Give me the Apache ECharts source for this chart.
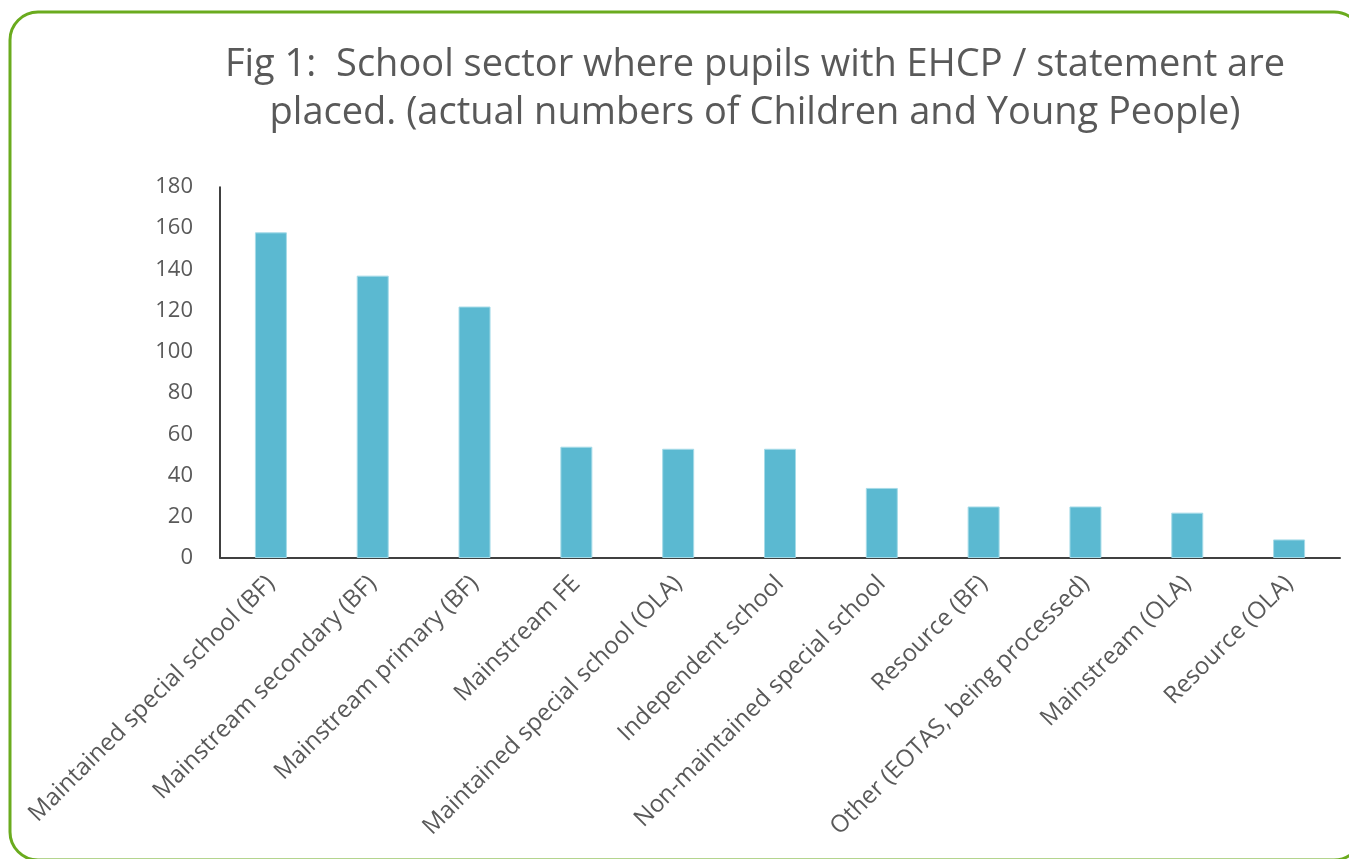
<!DOCTYPE html>
<html><head><meta charset="utf-8">
<script src="https://cdn.jsdelivr.net/npm/echarts@6/dist/echarts.min.js"></script>
<style>html,body{margin:0;padding:0;background:#fff}#c{width:1349px;height:859px}</style>
</head><body><div id="c"></div>
<script>
const categories = [
  "Maintained special school (BF)",
  "Mainstream secondary (BF)",
  "Mainstream primary (BF)",
  "Mainstream FE",
  "Maintained special school (OLA)",
  "Independent school",
  "Non-maintained special school",
  "Resource (BF)",
  "Other (EOTAS, being processed)",
  "Mainstream (OLA)",
  "Resource (OLA)"
];
const values = [158, 137, 122, 54, 53, 53, 34, 25, 25, 22, 9];
const titleLines = [
  "Fig 1:  School sector where pupils with EHCP / statement are",
  "placed. (actual numbers of Children and Young People)"
];

const chart = echarts.init(document.getElementById('c'));
chart.setOption({
  animation: false,
  title: {
    text: titleLines.join('\n'),
    left: 750, top: 36, textAlign: 'center',
    textStyle: { fontFamily: 'Open Sans', fontSize: 38, fontWeight: 'normal', color: '#595959', lineHeight: 48 }
  },
  graphic: [{
    type: 'rect', shape: { x: 10, y: 12, width: 1352, height: 848, r: 28 },
    style: { fill: 'none', stroke: '#6aab1e', lineWidth: 3 }, z: 100
  }],
  grid: { left: 220, right: 9, top: 187, bottom: 301 },
  xAxis: {
    type: 'category', data: categories,
    axisLine: { lineStyle: { color: '#404040', width: 2 } },
    axisTick: { show: false },
    axisLabel: { interval: 0, rotate: 45, margin: 22, color: '#595959', fontFamily: 'Open Sans', fontSize: 24 }
  },
  yAxis: {
    type: 'value', min: 0, max: 180, interval: 20,
    axisLine: { show: true, lineStyle: { color: '#000', width: 1.5 } },
    axisTick: { show: false },
    splitLine: { show: false },
    axisLabel: { margin: 27, color: '#595959', fontFamily: 'Open Sans', fontSize: 22 }
  },
  series: [{
    type: 'bar', data: values, barWidth: 32,
    itemStyle: { color: '#5bb9d1', borderColor: '#a6dbe8', borderWidth: 1 }
  }]
});
</script></body></html>
